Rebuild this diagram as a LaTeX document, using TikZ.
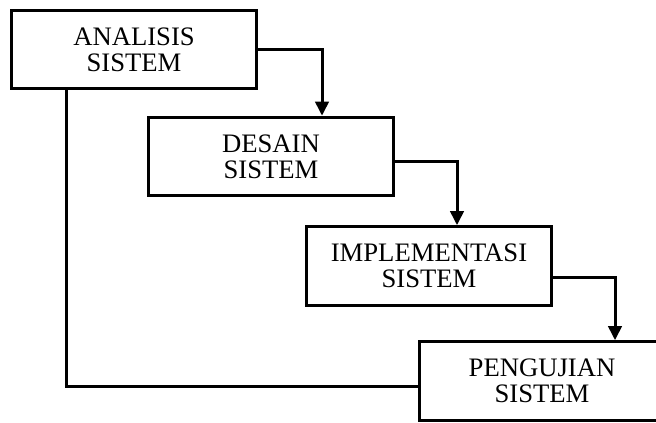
\documentclass[tikz,border=0pt]{standalone}
\usepackage{fontspec}
\setmainfont{Liberation Serif}
\usetikzlibrary{calc,arrows.meta}

\begin{document}
\begin{tikzpicture}[x=0.75pt,y=-0.75pt]
    \tikzset{tahap/.style={draw,line width=2.25pt,minimum width=184pt,minimum height=59pt,
                           align=center,font=\fontsize{20}{19.5}\selectfont,inner sep=0pt},
             panah/.style={line width=2.25pt,-{Triangle[width=10pt,length=10.5pt]}}}
    \useasboundingbox (0,0) rectangle (656,422);
    \clip (0,0) rectangle (656,422);
    \node[tahap](analisis)  at (134,49.5) {ANALISIS\\SISTEM};
    \node[tahap](desain)    at (271,156.5) {DESAIN\\SISTEM};
    \node[tahap](implement) at (429,266) {IMPLEMENTASI\\SISTEM};
    \node[tahap](pengujian) at (542,381) {PENGUJIAN\\SISTEM};
\draw[panah] (analisis.east) -| ($(desain.north)+(51,0)$) ;
\draw[panah] ($(desain.east)+(0,4.5)$) -| ($(implement.north)+(28,0)$) ;
\draw[panah] ($(implement.east)+(0,11)$) -| ($(pengujian.north)+(73,0)$) ;
\draw[line width=2.25pt] ($(analisis.south)+(-68,0)$) |- ($(pengujian.west)+(0,5)$) ;
  \end{tikzpicture}
\end{document}
